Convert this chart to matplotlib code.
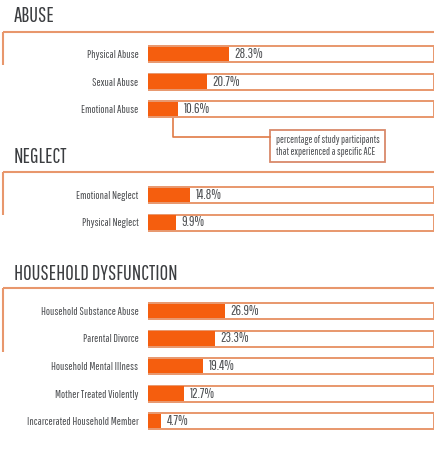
import matplotlib
matplotlib.use("Agg")
import matplotlib.pyplot as plt

plt.rcParams['font.family'] = ['Pathway Gothic One', 'DejaVu Sans']

# ---- data ----
abuse_labels = ["Physical Abuse", "Sexual Abuse", "Emotional Abuse"]
abuse_values = [28.3, 20.7, 10.6]
neglect_labels = ["Emotional Neglect", "Physical Neglect"]
neglect_values = [14.8, 9.9]
house_labels = ["Household Substance Abuse", "Parental Divorce", "Household Mental Illness",
                "Mother Treated Violently", "Incarcerated Household Member"]
house_values = [26.9, 23.3, 19.4, 12.7, 4.7]
section_titles = ["ABUSE", "NEGLECT", "HOUSEHOLD DYSFUNCTION"]
note_text = "percentage of study participants\nthat experienced a specific ACE"

# ---- style ----
W, H = 434, 458
FILL = "#F55E0E"
EDGE = "#E8976C"
HEAD = "#3b3d40"
TXT = "#4d4f52"
ROW = 27.5       # px per row
BAR_PX = 16.0    # px bar height
X0 = 148         # px where bars start

fig = plt.figure(figsize=(W / 100, H / 100), dpi=100)
fig.patch.set_facecolor("white")

ov = fig.add_axes([0, 0, 1, 1])
ov.set_xlim(0, W)
ov.set_ylim(H, 0)
ov.axis("off")

sections = [
    (abuse_labels, abuse_values, 54.0, 22, 32, 65),
    (neglect_labels, neglect_values, 195.0, 163, 172, 215),
    (house_labels, house_values, 311.0, 280, 288, 352),
]

for (labels, values, first_c, title_base, frame_y, frame_bot), title in zip(sections, section_titles):
    n = len(labels)
    top = first_c - ROW / 2
    hpx = n * ROW
    ax = fig.add_axes([X0 / W, 1 - (top + hpx) / H, (W - X0) / W, hpx / H])
    ax.set_xlim(0, 100)
    ax.set_ylim(n - 0.5, -0.5)
    ys = list(range(n))
    bh = BAR_PX / ROW
    ax.barh(ys, [100] * n, height=bh, color="white", edgecolor=EDGE, linewidth=1.4, zorder=1)
    ax.barh(ys, values, height=bh * 0.92, color=FILL, edgecolor="none", zorder=2)
    for y, v in zip(ys, values):
        ax.annotate(f"{v}%", (v, y), xytext=(4, 0), textcoords="offset points",
                    va="center", ha="left", fontsize=10, color=TXT, zorder=3)
    ax.set_yticks(ys)
    ax.set_yticklabels(labels, fontsize=8, color=TXT)
    ax.tick_params(axis="y", length=0, pad=7)
    ax.set_xticks([])
    for s in ax.spines.values():
        s.set_visible(False)
    ax.patch.set_alpha(0)
    ov.text(14, title_base, title, fontsize=15, color=HEAD, va="baseline", ha="left")
    ov.plot([3, W], [frame_y, frame_y], color=EDGE, lw=1.5, solid_capstyle="butt")
    ov.plot([3, 3], [frame_y, frame_bot], color=EDGE, lw=1.5, solid_capstyle="butt")

# annotation callout
ov.plot([173, 173, 270], [116, 137, 137], color="#E07A45", lw=1.2)
ov.add_patch(plt.Rectangle((270, 130), 115, 32, facecolor="white", edgecolor="#D9896A", lw=1.3))
ov.text(276, 146, note_text, fontsize=7.5, color=TXT, va="center", ha="left", linespacing=1.25)

fig.savefig("out.png", dpi=100, facecolor="white")
